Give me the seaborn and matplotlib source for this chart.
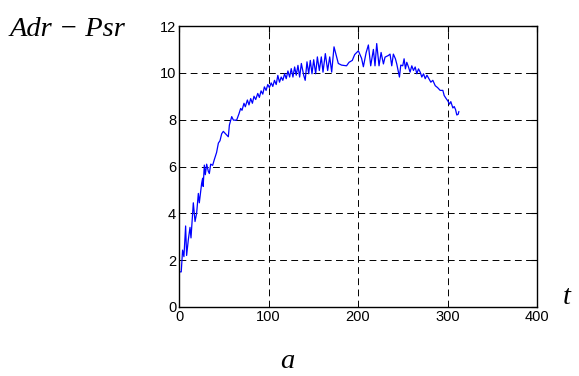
import matplotlib
matplotlib.use("Agg")
import matplotlib.pyplot as plt
import seaborn as sns
import pandas as pd

t_vals = [0, 2.5, 4, 5.5, 7.4, 8.5, 10.5, 12.3, 13.4, 16, 17.9, 19.7, 21.6, 22.7, 25.3, 26.4, 27,
          28.3, 29.4, 30.9, 32.7, 33.9, 35.4, 37.6, 39.5, 42, 44, 45.8, 47.7, 49.5, 55.1, 56.3,
          58.9, 60.8, 64.4, 67, 68.9, 70.4, 72.6, 74.1, 76.4, 78.2, 80.1, 82, 83.8, 85.7, 88,
          89.8, 91.7, 93.6, 95.4, 97.3, 99.2, 101, 103, 104.8, 106.7, 108.6, 110.4, 112.3,
          114.2, 116, 118, 119.8, 121.7, 123.6, 125.4, 127.3, 129.2, 131, 132.9, 134.8, 136.7,
          139.3, 141, 143, 144.9, 146.7, 148.6, 150.5, 152.7, 154.6, 156.8, 159, 160.9, 163.5,
          166.1, 168.4, 170.6, 173.2, 178, 181.6, 187.2, 190, 193.6, 196.3, 200.4, 204, 206,
          209, 211.6, 214.2, 217.2, 219, 220.9, 223.5, 225.8, 228.4, 230.2, 233.9, 235.8,
          237.7, 239.5, 241.8, 243.3, 246.3, 247.8, 250, 251.5, 253, 254.5, 256.4, 258.2,
          260.1, 262, 263.9, 265.7, 267.6, 269.5, 271.3, 273.2, 275.1, 277, 281.4, 283.6,
          286.3, 288.9, 291.8, 294.8, 296.3, 298.5, 300.4, 302.2, 303.7, 306, 307.5, 309,
          310.4, 311.9, 312.7]
adr_psr = [1.5, 1.5, 2.43, 2.15, 3.46, 2.2, 2.9, 3.4, 2.95, 4.45, 3.65, 4.0, 4.85, 4.45, 5.28,
           5.5, 5.15, 6.06, 5.65, 6.1, 5.8, 5.7, 6.1, 6.05, 6.3, 6.6, 7.0, 7.1, 7.4, 7.5, 7.27,
           7.77, 8.13, 7.98, 7.98, 8.25, 8.48, 8.4, 8.7, 8.55, 8.84, 8.63, 8.9, 8.7, 9.0, 8.86,
           9.12, 8.95, 9.23, 9.09, 9.4, 9.25, 9.5, 9.37, 9.57, 9.42, 9.68, 9.5, 9.89, 9.6, 9.82,
           9.68, 9.96, 9.75, 10.08, 9.82, 10.18, 9.82, 10.25, 9.9, 10.32, 9.82, 10.4, 9.9, 9.68,
           10.47, 9.96, 10.53, 9.96, 10.56, 9.96, 10.68, 10.1, 10.68, 10.03, 10.82, 10.1, 10.68,
           10.03, 11.11, 10.4, 10.33, 10.3, 10.45, 10.53, 10.78, 10.94, 10.62, 10.26, 10.85,
           11.19, 10.3, 11.0, 10.3, 11.25, 10.3, 10.87, 10.38, 10.67, 10.74, 10.8, 10.3, 10.8,
           10.6, 10.38, 9.82, 10.33, 10.3, 10.6, 10.17, 10.45, 10.25, 10.03, 10.3, 10.1, 10.25,
           9.96, 10.17, 10.03, 9.82, 9.96, 9.75, 9.9, 9.6, 9.68, 9.45, 9.37, 9.25, 9.25, 9.03,
           8.9, 8.8, 8.66, 8.77, 8.5, 8.56, 8.43, 8.2, 8.23, 8.35]

x_ticks = [0, 100, 200, 300, 400]
y_ticks = [0, 2, 4, 6, 8, 10, 12]

df = pd.DataFrame({"t": t_vals, "v": adr_psr})

sns.set_style("white")
plt.rcParams["font.family"] = ["Liberation Sans", "DejaVu Sans"]
plt.rcParams["text.color"] = "black"

fig = plt.figure(figsize=(5.79, 3.76), dpi=100)
ax = fig.add_axes([179 / 579, 1 - 307 / 376, 358 / 579, 281 / 376])
sns.lineplot(data=df, x="t", y="v", ax=ax, color="#0000ff", linewidth=0.9, sort=False)

ax.set_xlim(0, 400)
ax.set_ylim(0, 12)
ax.set_xticks(x_ticks)
ax.set_yticks(y_ticks)
ax.set_xticklabels([str(v) for v in x_ticks], fontsize=10.5, color="black")
ax.set_yticklabels([str(v) for v in y_ticks], fontsize=10.5, color="black")
ax.set_xlabel("")
ax.set_ylabel("")
ax.tick_params(direction="in", length=4, width=0.8, top=True, right=True, pad=2,
               colors="black", labelcolor="black")
ax.grid(True, color="black", linestyle=(0, (7, 4.5)), linewidth=0.7)
for s in ax.spines.values():
    s.set_color("black")
    s.set_linewidth(1.0)
    s.set_visible(True)

serif = ["Liberation Serif", "DejaVu Serif"]
fig.text(10 / 579, 1 - 30 / 376, "Adr \u2212 Psr", family=serif, style="italic",
         fontsize=20.5, ha="left", va="center", color="black")
fig.text(567 / 579, 1 - 298 / 376, "t", family=serif, style="italic",
         fontsize=20.5, ha="center", va="center", color="black")
fig.text(287 / 579, 1 - 362 / 376, "a", family=serif, style="italic",
         fontsize=20.5, ha="center", va="center", color="black")

fig.savefig("out.png", dpi=100)
